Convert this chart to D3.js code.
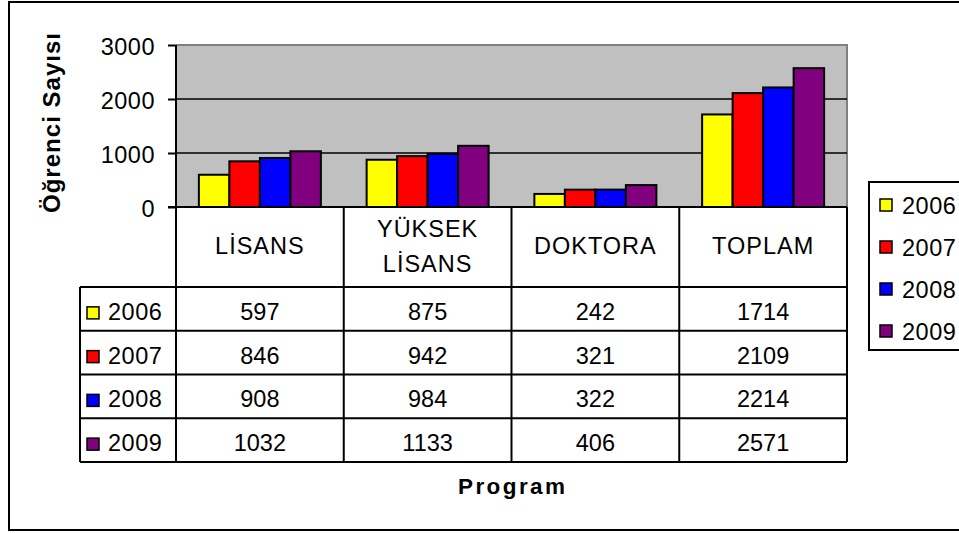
<!DOCTYPE html>
<html>
<head>
<meta charset="utf-8">
<script src="https://cdn.jsdelivr.net/npm/d3@7"></script>
<style>
  html, body { margin: 0; padding: 0; background: #fff; }
  svg { display: block; font-family: 'Liberation Sans', Arial, sans-serif; }
</style>
</head>
<body>
<div id="chart"></div>
<script>
// data
const categories = ['LİSANS', 'YÜKSEK LİSANS', 'DOKTORA', 'TOPLAM'];
const categoryLines = [['LİSANS'], ['YÜKSEK', 'LİSANS'], ['DOKTORA'], ['TOPLAM']];
const years = ['2006', '2007', '2008', '2009'];
const values2006 = [597, 875, 242, 1714];
const values2007 = [846, 942, 321, 2109];
const values2008 = [908, 984, 322, 2214];
const values2009 = [1032, 1133, 406, 2571];
const yTicks = [0, 1000, 2000, 3000];
const yTitle = 'Öğrenci Sayısı';
const xTitle = 'Program';

const seriesValues = [values2006, values2007, values2008, values2009];
const colors = ['#FFFF00', '#FF0000', '#0000FF', '#800080'];

const svgWidth = 959,
      svgHeight = 533;

const plot = { left: 176, right: 847, top: 45, bottom: 207 };
const table = { left: 80, headerBottom: 287, bottom: 462 };

const svg = d3.select('#chart')
  .append('svg')
  .attr('width', svgWidth)
  .attr('height', svgHeight);

// outer frame
svg.append('rect')
  .attr('x', 9).attr('y', 2)
  .attr('width', 980).attr('height', 528)
  .attr('fill', '#fff')
  .attr('stroke', '#000')
  .attr('stroke-width', 2);

// scales
const x = d3.scaleBand()
  .domain(categories)
  .range([plot.left, plot.right]);

const xSub = d3.scaleBand()
  .domain(years)
  .range([0, x.bandwidth()])
  .paddingInner(0)
  .paddingOuter(0.75);

const y = d3.scaleLinear()
  .domain([0, 3000])
  .range([plot.bottom, plot.top]);

const rowY = d3.scaleBand()
  .domain(years)
  .range([table.headerBottom, table.bottom]);

// plot background
svg.append('rect')
  .attr('x', plot.left).attr('y', plot.top)
  .attr('width', plot.right - plot.left)
  .attr('height', plot.bottom - plot.top)
  .attr('fill', '#C0C0C0');

svg.append('path')
  .attr('d', `M${plot.left},${plot.top}H${plot.right}V${plot.bottom}`)
  .attr('fill', 'none')
  .attr('stroke', '#808080')
  .attr('stroke-width', 2);

// gridlines
svg.append('g')
  .selectAll('line')
  .data(yTicks.filter(d => d > 0 && d < 3000))
  .enter()
  .append('line')
  .attr('x1', plot.left).attr('x2', plot.right)
  .attr('y1', d => y(d)).attr('y2', d => y(d))
  .attr('stroke', '#000')
  .attr('stroke-width', 1.5);

// bars
const bars = svg.append('g');
years.forEach((yr, i) => {
  bars.append('g')
    .selectAll('rect')
    .data(seriesValues[i])
    .enter()
    .append('rect')
    .attr('x', (d, j) => x(categories[j]) + xSub(yr))
    .attr('y', d => y(d))
    .attr('width', xSub.bandwidth())
    .attr('height', d => y(0) - y(d))
    .attr('fill', colors[i])
    .attr('stroke', '#000')
    .attr('stroke-width', 2);
});

// y axis
const yAxis = d3.axisLeft(y)
  .tickValues(yTicks)
  .tickFormat(d3.format('d'))
  .tickSize(8)
  .tickPadding(13)
  .tickSizeOuter(0);

const yAxisG = svg.append('g')
  .attr('transform', `translate(${plot.left},0)`)
  .call(yAxis);
yAxisG.select('.domain').remove();
yAxisG.selectAll('line').attr('stroke', '#000').attr('stroke-width', 2);
yAxisG.selectAll('text')
  .attr('font-size', 23.5)
  .attr('font-family', "'Liberation Sans', Arial, sans-serif")
  .attr('letter-spacing', 0.5)
  .attr('fill', '#000')
  .attr('dy', '0.42em');

// table lines
const tbl = svg.append('g')
  .attr('stroke', '#000')
  .attr('stroke-width', 2)
  .attr('fill', 'none');

tbl.append('line')
  .attr('x1', plot.left).attr('x2', plot.left)
  .attr('y1', plot.top).attr('y2', table.bottom);

tbl.selectAll('.vline')
  .data(categories)
  .enter()
  .append('line')
  .attr('x1', d => x(d) + x.bandwidth()).attr('x2', d => x(d) + x.bandwidth())
  .attr('y1', plot.bottom).attr('y2', table.bottom);

tbl.append('line')
  .attr('x1', table.left).attr('x2', table.left)
  .attr('y1', table.headerBottom).attr('y2', table.bottom);

tbl.append('line')
  .attr('x1', plot.left - 8).attr('x2', plot.right)
  .attr('y1', plot.bottom).attr('y2', plot.bottom);

tbl.selectAll('.hline')
  .data(years)
  .enter()
  .append('line')
  .attr('x1', table.left).attr('x2', plot.right)
  .attr('y1', d => rowY(d)).attr('y2', d => rowY(d));

tbl.append('line')
  .attr('x1', table.left).attr('x2', plot.right)
  .attr('y1', table.bottom).attr('y2', table.bottom);

// category header labels
const header = svg.append('g')
  .attr('font-size', 23.5)
  .attr('letter-spacing', 1)
  .attr('text-anchor', 'middle')
  .attr('fill', '#000');

categories.forEach((c, i) => {
  const lines = categoryLines[i];
  const cx = x(c) + x.bandwidth() / 2;
  const first = lines.length === 1 ? 254 : 237;
  lines.forEach((ln, k) => {
    header.append('text')
      .attr('x', cx)
      .attr('y', first + k * 35)
      .text(ln);
  });
});

// data rows
const rows = svg.append('g')
  .attr('font-size', 23.5)
  .attr('fill', '#000');

years.forEach((yr, i) => {
  const top = rowY(yr);
  const base = top + rowY.bandwidth() / 2 + 11;
  rows.append('rect')
    .attr('x', 87).attr('y', top + rowY.bandwidth() / 2 - 2)
    .attr('width', 12).attr('height', 12)
    .attr('fill', colors[i])
    .attr('stroke', '#000')
    .attr('stroke-width', 1.5);
  rows.append('text')
    .attr('x', 108)
    .attr('y', base)
    .attr('letter-spacing', 0.5)
    .text(yr);
  rows.selectAll(null)
    .data(seriesValues[i])
    .enter()
    .append('text')
    .attr('x', (d, j) => x(categories[j]) + x.bandwidth() / 2)
    .attr('y', base)
    .attr('text-anchor', 'middle')
    .text(d => d);
});

// legend
const legend = svg.append('g');
legend.append('rect')
  .attr('x', 869).attr('y', 182)
  .attr('width', 120).attr('height', 168)
  .attr('fill', '#fff')
  .attr('stroke', '#000')
  .attr('stroke-width', 2);

const legendY = d3.scalePoint()
  .domain(years)
  .range([205, 331]);

legend.selectAll('rect.key')
  .data(years)
  .enter()
  .append('rect')
  .attr('class', 'key')
  .attr('x', 880).attr('y', d => legendY(d) - 6)
  .attr('width', 12).attr('height', 12)
  .attr('fill', (d, i) => colors[i])
  .attr('stroke', '#000')
  .attr('stroke-width', 1.5);

legend.selectAll('text')
  .data(years)
  .enter()
  .append('text')
  .attr('x', 902)
  .attr('y', d => legendY(d) + 9)
  .attr('font-size', 23.5)
  .attr('letter-spacing', 0.5)
  .attr('fill', '#000')
  .text(d => d);

// axis titles
svg.append('text')
  .attr('transform', 'translate(60,123) rotate(-90)')
  .attr('text-anchor', 'middle')
  .attr('font-size', 24)
  .attr('font-weight', 'bold')
  .attr('textLength', 180)
  .attr('lengthAdjust', 'spacing')
  .attr('fill', '#000')
  .text(yTitle);

svg.append('text')
  .attr('x', (plot.left + plot.right) / 2)
  .attr('y', 494)
  .attr('text-anchor', 'middle')
  .attr('font-size', 22.5)
  .attr('font-weight', 'bold')
  .attr('textLength', 107)
  .attr('lengthAdjust', 'spacing')
  .attr('fill', '#000')
  .text(xTitle);
</script>
</body>
</html>
